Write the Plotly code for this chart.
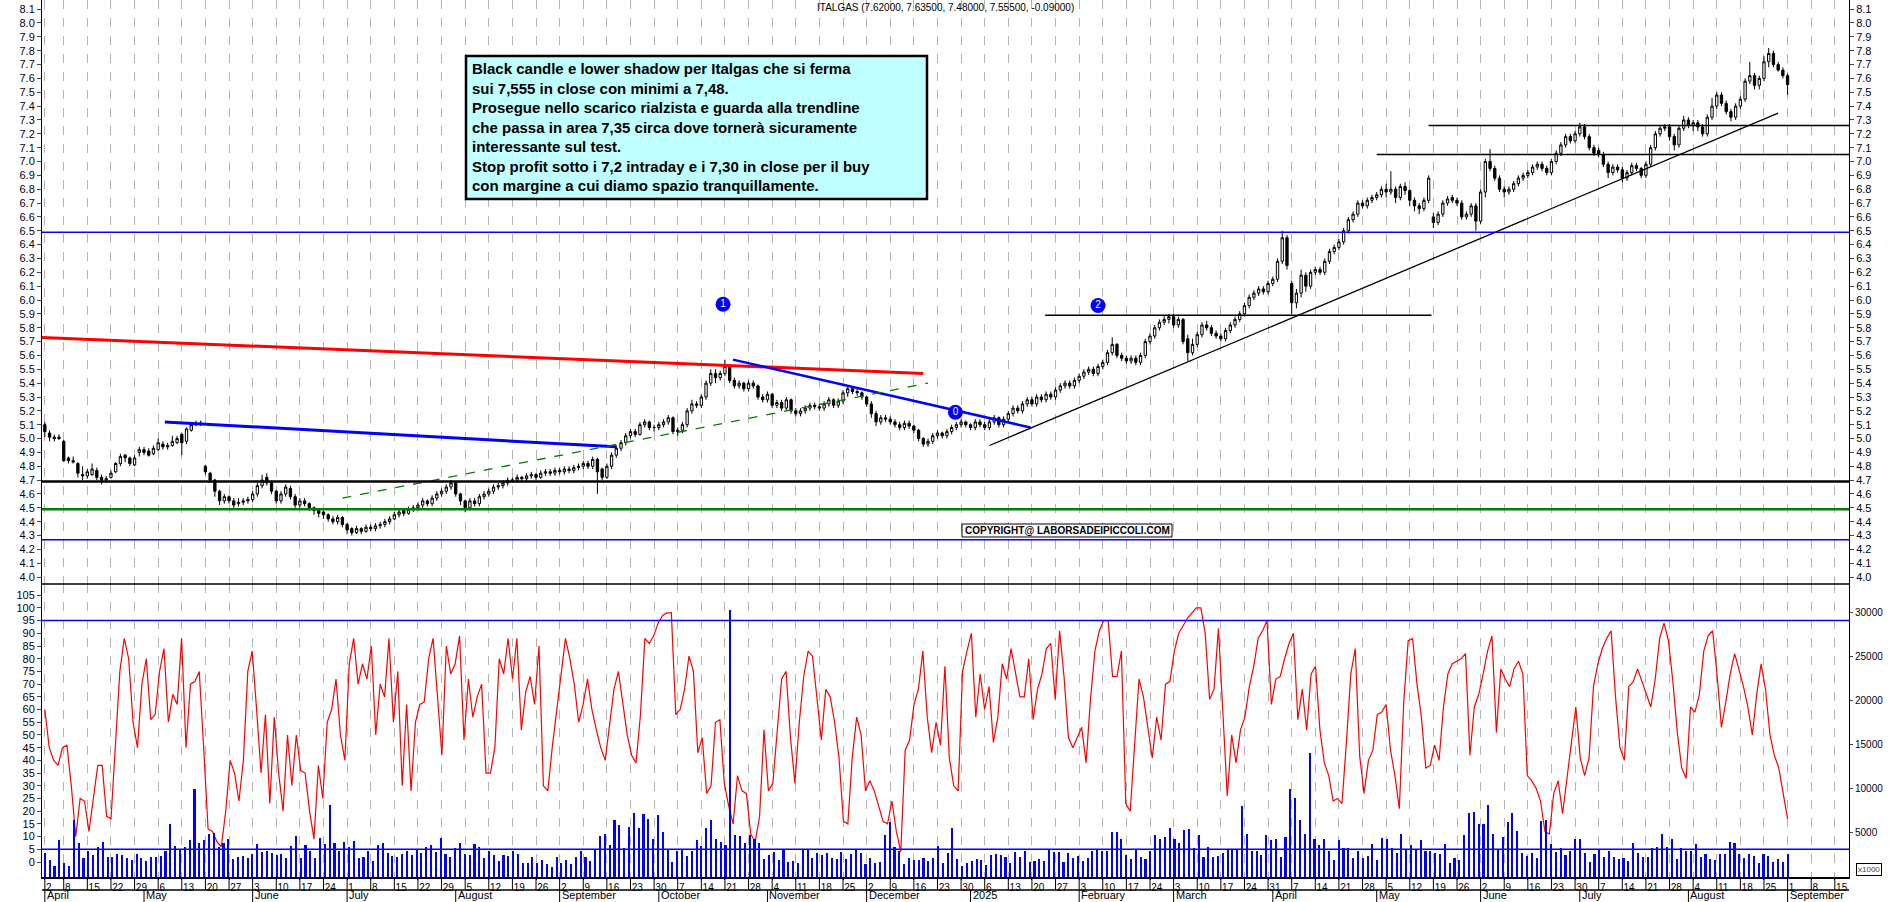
import numpy as np
import pandas as pd
import plotly.graph_objects as go

START, END = "2024-04-02", "2025-09-01"

close = [5.05,5.01,5.00,5.01,
4.84,4.84,4.84,4.75,4.73, 4.76,4.78,4.72,4.70,4.71, 4.75,4.82,4.87,4.86,4.82, 4.86,4.92,4.90,4.88,4.93,
4.97,4.94,4.95,4.98,5.00, 4.97,5.07,5.10,5.11,5.11, 4.76,4.70,4.62,4.55,4.58, 4.55,4.52,4.54,4.55,4.56,
4.60,4.66,4.70,4.68,4.62, 4.55,4.60,4.65,4.58,4.52, 4.55,4.53,4.50,4.48,4.46, 4.45,4.42,4.40,4.43,4.38,
4.34,4.32,4.35,4.33,4.36, 4.35,4.37,4.38,4.40,4.42, 4.45,4.47,4.46,4.49,4.50, 4.52,4.55,4.53,4.57,4.60,
4.62,4.65,4.68,4.60,4.55, 4.50,4.55,4.53,4.58,4.60, 4.62,4.65,4.66,4.68,4.70, 4.70,4.72,4.71,4.73,4.74,
4.72,4.75,4.76,4.75,4.77, 4.76,4.78,4.77,4.79,4.80, 4.82,4.80,4.85,4.76,4.72, 4.80,4.88,4.93,4.97,5.02,
5.05,5.03,5.10,5.12,5.08, 5.08,5.10,5.12,5.15,5.05, 5.06,5.10,5.20,5.25,5.24, 5.30,5.40,5.47,5.44,5.47,
5.52,5.42,5.38,5.40,5.36, 5.40,5.38,5.30,5.28,5.32, 5.24,5.26,5.22,5.28,5.20, 5.18,5.20,5.22,5.24,5.23,
5.22,5.25,5.28,5.24,5.27, 5.33,5.36,5.34,5.33,5.30, 5.25,5.18,5.12,5.15,5.14, 5.12,5.10,5.08,5.11,5.09,
5.06,5.00,4.96,4.98,5.02, 5.04,5.02,5.05,5.08,5.10, 5.12,5.10,5.08,5.12,5.10, 5.08,5.12,5.15,5.10,5.14,
5.18,5.22,5.20,5.25,5.28, 5.25,5.30,5.28,5.32,5.30, 5.35,5.38,5.40,5.38,5.42, 5.45,5.48,5.50,5.47,5.52,
5.55,5.62,5.68,5.60,5.58, 5.56,5.58,5.55,5.60,5.70, 5.74,5.80,5.84,5.86,5.88, 5.82,5.86,5.70,5.62,5.68,
5.75,5.82,5.80,5.76,5.74, 5.72,5.78,5.82,5.86,5.90, 5.96,6.02,6.05,6.08,6.06, 6.12,6.15,6.28,6.45,6.25,
5.98,6.05,6.18,6.10,6.20, 6.22,6.20,6.28,6.35,6.38, 6.42,6.50,6.58,6.62,6.70, 6.68,6.72,6.74,6.76,6.80,
6.78,6.80,6.74,6.82,6.79, 6.72,6.68,6.66,6.72,6.88, 6.56,6.62,6.70,6.73,6.72, 6.70,6.60,6.62,6.68,6.57,
6.78,7.00,6.95,6.88,6.80, 6.78,6.80,6.84,6.88,6.90, 6.92,6.96,6.98,6.95,6.92, 7.00,7.06,7.12,7.18,7.15,
7.20,7.25,7.18,7.10,7.06, 7.05,6.98,6.92,6.96,6.94, 6.88,6.92,6.97,6.95,6.90, 6.98,7.10,7.20,7.24,7.25,
7.18,7.12,7.24,7.30,7.26, 7.28,7.25,7.20,7.32,7.40, 7.48,7.42,7.36,7.32,7.40, 7.45,7.58,7.62,7.55,7.60,
7.72,7.78,7.70,7.66,7.62, 7.555]

open_ = [5.10,5.04,5.01,5.00,
4.98,4.86,4.83,4.82,4.74, 4.73,4.74,4.77,4.72,4.70, 4.72,4.76,4.82,4.88,4.86, 4.81,4.90,4.92,4.91,4.89,
4.92,4.96,4.94,4.95,4.97, 5.03,4.98,5.06,5.10,5.11, 4.80,4.75,4.70,4.62,4.55, 4.58,4.55,4.53,4.54,4.55,
4.56,4.60,4.66,4.72,4.68, 4.62,4.55,4.60,4.64,4.58, 4.52,4.55,4.53,4.50,4.48, 4.47,4.45,4.42,4.40,4.43,
4.38,4.35,4.32,4.35,4.33, 4.36,4.35,4.37,4.38,4.40, 4.42,4.45,4.48,4.46,4.49, 4.50,4.52,4.55,4.53,4.57,
4.60,4.62,4.65,4.68,4.60, 4.55,4.50,4.55,4.53,4.58, 4.60,4.62,4.65,4.66,4.68, 4.70,4.70,4.72,4.71,4.73,
4.74,4.72,4.75,4.76,4.75, 4.77,4.76,4.78,4.77,4.79, 4.80,4.82,4.80,4.85,4.78, 4.72,4.80,4.88,4.93,4.97,
5.02,5.05,5.03,5.10,5.12, 5.08,5.08,5.10,5.12,5.15, 5.05,5.06,5.10,5.20,5.25, 5.24,5.30,5.40,5.47,5.44,
5.47,5.52,5.42,5.38,5.40, 5.36,5.40,5.38,5.30,5.28, 5.32,5.24,5.26,5.22,5.28, 5.20,5.18,5.20,5.22,5.24,
5.23,5.22,5.25,5.28,5.24, 5.27,5.33,5.36,5.34,5.33, 5.30,5.25,5.18,5.12,5.15, 5.14,5.12,5.10,5.08,5.11,
5.09,5.06,5.00,4.96,4.98, 5.02,5.04,5.02,5.05,5.08, 5.10,5.12,5.10,5.08,5.12, 5.10,5.08,5.12,5.15,5.10,
5.14,5.18,5.22,5.20,5.25, 5.28,5.25,5.30,5.28,5.32, 5.30,5.35,5.38,5.40,5.38, 5.42,5.45,5.48,5.50,5.47,
5.52,5.55,5.62,5.68,5.60, 5.58,5.56,5.58,5.55,5.60, 5.70,5.74,5.80,5.84,5.86, 5.88,5.82,5.86,5.72,5.62,
5.68,5.75,5.82,5.80,5.76, 5.74,5.72,5.78,5.82,5.86, 5.90,5.96,6.02,6.05,6.08, 6.06,6.12,6.15,6.28,6.45,
6.12,5.98,6.05,6.18,6.10, 6.20,6.22,6.20,6.28,6.35, 6.38,6.42,6.50,6.58,6.62, 6.70,6.68,6.72,6.74,6.76,
6.80,6.78,6.80,6.74,6.82, 6.79,6.72,6.68,6.66,6.72, 6.60,6.56,6.62,6.70,6.74, 6.72,6.70,6.60,6.62,6.68,
6.57,6.78,7.00,6.95,6.88, 6.80,6.78,6.80,6.84,6.88, 6.90,6.92,6.96,6.98,6.95, 6.92,7.00,7.06,7.12,7.18,
7.15,7.20,7.25,7.18,7.10, 7.08,7.05,6.98,6.92,6.96, 6.94,6.88,6.92,6.97,6.95, 6.90,6.98,7.10,7.20,7.24,
7.25,7.18,7.12,7.24,7.30, 7.26,7.28,7.25,7.20,7.32, 7.40,7.48,7.42,7.36,7.32, 7.40,7.45,7.58,7.62,7.55,
7.60,7.72,7.78,7.70,7.66, 7.62]

high = [5.12,5.06,5.03,5.03,
4.99,4.87,4.87,4.83,4.80, 4.78,4.82,4.79,4.74,4.73, 4.77,4.83,4.89,4.89,4.87, 4.88,4.94,4.94,4.93,4.95,
5.00,4.98,4.97,5.02,5.02, 5.04,5.08,5.12,5.13,5.13, 4.81,4.76,4.71,4.63,4.60, 4.59,4.57,4.57,4.57,4.58,
4.62,4.68,4.74,4.75,4.69, 4.63,4.62,4.67,4.66,4.60, 4.57,4.57,4.54,4.51,4.49, 4.48,4.46,4.44,4.45,4.44,
4.39,4.36,4.37,4.36,4.38, 4.38,4.39,4.40,4.42,4.44, 4.47,4.49,4.49,4.51,4.52, 4.54,4.57,4.56,4.59,4.62,
4.64,4.67,4.70,4.69,4.61, 4.56,4.57,4.57,4.60,4.62, 4.64,4.67,4.68,4.70,4.72, 4.72,4.74,4.73,4.75,4.76,
4.75,4.77,4.78,4.78,4.79, 4.79,4.80,4.80,4.81,4.82, 4.84,4.84,4.87,4.86,4.79, 4.82,4.90,4.95,4.99,5.04,
5.07,5.07,5.12,5.14,5.13, 5.10,5.12,5.14,5.17,5.16, 5.08,5.12,5.22,5.28,5.27, 5.32,5.42,5.50,5.50,5.49,
5.57,5.53,5.44,5.42,5.41, 5.42,5.42,5.39,5.32,5.34, 5.33,5.28,5.28,5.30,5.29, 5.22,5.22,5.24,5.26,5.26,
5.25,5.27,5.30,5.29,5.29, 5.35,5.38,5.38,5.36,5.34, 5.31,5.27,5.20,5.17,5.17, 5.16,5.14,5.12,5.13,5.13,
5.10,5.07,5.01,5.00,5.04, 5.06,5.05,5.07,5.10,5.12, 5.14,5.13,5.11,5.14,5.14, 5.12,5.14,5.17,5.16,5.16,
5.20,5.24,5.24,5.27,5.30, 5.30,5.32,5.32,5.34,5.34, 5.37,5.40,5.42,5.42,5.44, 5.47,5.50,5.52,5.52,5.54,
5.57,5.64,5.73,5.69,5.62, 5.60,5.60,5.60,5.62,5.72, 5.76,5.82,5.86,5.89,5.90, 5.90,5.88,5.87,5.75,5.72,
5.77,5.84,5.85,5.82,5.78, 5.76,5.80,5.84,5.88,5.92, 5.98,6.04,6.07,6.10,6.10, 6.14,6.17,6.30,6.50,6.47,
6.14,6.08,6.22,6.20,6.22, 6.24,6.24,6.30,6.37,6.40, 6.44,6.52,6.60,6.64,6.72, 6.72,6.74,6.76,6.78,6.82,
6.84,6.93,6.82,6.84,6.85, 6.80,6.74,6.70,6.74,6.90, 6.63,6.64,6.72,6.75,6.76, 6.74,6.72,6.64,6.70,6.70,
6.80,7.02,7.09,6.97,6.90, 6.82,6.82,6.86,6.90,6.92, 6.94,6.98,7.00,7.00,6.97, 7.02,7.08,7.14,7.20,7.20,
7.22,7.28,7.27,7.20,7.12, 7.10,7.07,7.00,6.98,6.98, 6.96,6.94,6.99,6.99,6.96, 7.00,7.12,7.22,7.26,7.27,
7.27,7.20,7.26,7.33,7.32, 7.30,7.30,7.27,7.34,7.46, 7.50,7.50,7.44,7.38,7.42, 7.47,7.60,7.72,7.64,7.62,
7.76,7.82,7.80,7.72,7.68, 7.635]

low = [5.01,4.98,4.98,4.99,
4.83,4.82,4.82,4.72,4.70, 4.71,4.73,4.70,4.67,4.68, 4.71,4.75,4.80,4.83,4.80, 4.80,4.87,4.88,4.87,4.88,
4.91,4.92,4.92,4.94,4.96, 4.88,4.96,5.05,5.09,5.09, 4.74,4.68,4.58,4.52,4.53, 4.53,4.50,4.51,4.52,4.53,
4.54,4.58,4.64,4.66,4.60, 4.53,4.53,4.58,4.56,4.50, 4.50,4.51,4.48,4.45,4.43, 4.42,4.40,4.38,4.38,4.36,
4.31,4.30,4.31,4.31,4.32, 4.33,4.33,4.35,4.36,4.38, 4.41,4.43,4.44,4.45,4.47, 4.48,4.50,4.51,4.51,4.55,
4.58,4.60,4.63,4.58,4.52, 4.47,4.48,4.51,4.51,4.56, 4.58,4.60,4.63,4.64,4.66, 4.68,4.68,4.69,4.69,4.71,
4.70,4.71,4.73,4.73,4.73, 4.74,4.74,4.75,4.75,4.77, 4.78,4.78,4.78,4.60,4.70, 4.71,4.78,4.86,4.91,4.95,
5.00,5.01,5.02,5.08,5.06, 5.05,5.06,5.08,5.10,5.03, 5.02,5.04,5.08,5.18,5.22, 5.22,5.28,5.38,5.40,5.42,
5.45,5.40,5.36,5.36,5.34, 5.34,5.36,5.28,5.26,5.26, 5.22,5.22,5.20,5.20,5.18, 5.16,5.16,5.18,5.20,5.21,
5.20,5.20,5.23,5.22,5.22, 5.25,5.30,5.32,5.31,5.28, 5.23,5.15,5.09,5.10,5.12, 5.10,5.08,5.06,5.06,5.07,
5.04,4.98,4.94,4.94,4.96, 5.00,5.00,5.00,5.03,5.06, 5.08,5.08,5.06,5.06,5.08, 5.06,5.06,5.10,5.08,5.08,
5.12,5.16,5.18,5.18,5.23, 5.23,5.23,5.26,5.26,5.28, 5.28,5.33,5.36,5.36,5.36, 5.40,5.43,5.46,5.45,5.45,
5.50,5.53,5.60,5.58,5.56, 5.54,5.54,5.53,5.53,5.58, 5.68,5.72,5.78,5.82,5.83, 5.80,5.80,5.68,5.56,5.60,
5.66,5.73,5.78,5.74,5.72, 5.70,5.70,5.76,5.80,5.84, 5.88,5.94,6.00,6.03,6.04, 6.04,6.10,6.13,6.26,6.22,
5.90,5.94,6.02,6.06,6.08, 6.18,6.18,6.18,6.26,6.33, 6.36,6.40,6.48,6.56,6.60, 6.66,6.66,6.70,6.72,6.74,
6.74,6.76,6.70,6.72,6.76, 6.68,6.64,6.62,6.64,6.70, 6.52,6.54,6.60,6.68,6.70, 6.68,6.58,6.58,6.60,6.50,
6.55,6.74,6.93,6.86,6.78, 6.74,6.76,6.78,6.82,6.86, 6.88,6.90,6.94,6.93,6.90, 6.90,6.98,7.04,7.10,7.13,
7.13,7.18,7.16,7.08,7.04, 7.03,6.96,6.88,6.90,6.92, 6.85,6.86,6.90,6.93,6.88, 6.88,6.96,7.08,7.18,7.22,
7.15,7.08,7.10,7.22,7.24, 7.22,7.22,7.18,7.18,7.30, 7.38,7.40,7.34,7.29,7.30, 7.38,7.43,7.56,7.52,7.52,
7.58,7.68,7.68,7.65,7.60, 7.48]

stoch = [60,45,40,38,45,46,30,10,25,24, 12,25,38,38,18,17,45,75,88,80, 55,45,70,80,56,58,75,84,55,66,
62,88,45,70,71,75,45,13,12,8, 6,20,40,35,24,40,75,83,60,35, 58,23,57,35,20,50,30,50,36,35,
20,9,38,25,55,60,72,50,40,78, 88,70,78,72,85,50,70,65,88,55, 75,30,62,28,55,62,63,80,88,65,
42,85,74,78,89,48,72,57,65,70, 35,35,45,80,74,88,72,88,52,67, 73,62,85,30,28,45,
60,75,88,80,70,55,62,72,60,52,45,40,55,68,75,62,50,42,
39,58,88,86,89,94,97,98,98,58, 60,68,81,75,43,49,27,30,55,56, 31,22,15,34,28,27,11,8,18,52,
28,31,52,72,75,49,31,55,73,83, 81,65,48,68,65,55,41,16,15,41, 57,50,28,32,28,22,16,15,24,12,
4,44,48,62,68,83,57,43,55,46, 77,41,30,28,75,83,90,57,74,60, 69,47,57,78,72,84,75,65,65,80,
56,68,74,84,86,64,91,73,49,45, 49,53,39,64,83,91,95,95,73,73, 83,23,20,45,72,65,52,41,57,48,
70,71,83,90,93,96,98,100,100,90, 64,68,92,60,26,50,39,52,57,69, 77,88,91,95,62,72,73,80,86,90,
56,68,52,74,77,52,39,
34,24,25,23, 47,74,84,42,27,40,44,58,59,62, 44,34,21,63,87,88,70,57,37,38,
46,40,61,74,78,79,80,82,42,61, 66,74,83,89,51,76,72,69,76,79, 74,34,32,29,24,12,11,27,32,19,
32,47,61,41,34,41,69,78,84,88, 91,65,45,40,69,71,76,71,66,61, 72,88,94,87,71,51,37,33,61,59,
66,83,89,91,74,53,63,74,82,76, 69,61,50,66,78,68,50,42,37,27, 17]

volume_k = [2.7,1.9,1.3,4.2,
1.6,1.2,6.4,3.8,2.2, 2.9,2.5,3.4,4.0,2.3, 2.3,2.6,2.5,2.2,1.9, 2.6,2.1,1.8,2.3,2.3,
2.4,3.0,6.0,3.5,3.1, 3.4,4.2,10.0,3.9,4.2, 4.9,5.0,3.4,3.8,4.3, 2.0,2.3,2.4,2.2,2.6,
3.7,2.8,3.0,2.7,2.5, 2.6,2.2,3.5,4.6,2.1, 3.6,3.0,2.2,4.4,3.7, 8.2,3.8,2.9,4.0,3.4,
4.1,2.2,2.3,3.0,1.8, 3.6,3.8,2.7,2.4,2.3, 2.6,3.0,2.5,3.2,2.7, 3.4,3.6,2.8,4.4,2.6,
2.3,3.3,3.9,2.6,2.5, 3.7,3.4,2.1,3.0,2.5, 1.8,2.5,2.4,3.0,2.6, 1.6,1.6,2.3,1.6,1.9,
1.5,1.1,2.3,1.6,1.9, 1.5,2.3,2.9,2.3,1.8, 3.1,4.6,4.9,3.6,6.5, 5.9,3.3,5.7,7.2,5.5,
7.1,6.6,4.3,7.0,5.1, 3.2,1.7,2.9,3.1,2.4, 3.0,4.2,3.5,5.6,6.4,
4.3,4.0,3.6,30.2,4.7,4.6,3.8,4.7,4.3,3.8, 2.0,2.5,2.8,1.9,3.2,1.7,1.8,1.6,3.2,3.2,
2.1,2.7,2.5,2.7,2.2,2.0,2.8,2.0,2.6,3.2, 2.7,1.5,2.2,1.6,1.7,4.7,6.2,3.4,2.9,1.5,
2.1,1.9,1.9,2.2,1.8,2.2,3.5,1.6,2.7,5.5, 2.0,1.3,1.6,1.8,2.0,1.9,1.4,2.5,2.6,2.5,
2.3,1.6,2.8,2.3,3.0,1.7,1.8,2.0,1.8,3.2, 2.8,2.8,1.7,2.7,2.2,2.4,1.8,2.2,3.0,3.2,
2.9,2.9,5.1,5.1,4.3,2.5,2.0,3.2,2.3,2.0, 2.9,4.7,4.3,4.5,5.5,4.3,3.9,5.3,5.4,3.3,
4.7,2.3,3.4,2.3,2.4,2.7,3.1,3.1,3.2,8.0, 4.9,3.0,2.9,2.5,4.8,4.2,4.3,2.3,4.5,10.0,
9.0,6.5,4.9,14.0,4.3,3.6,4.3,2.9,1.9,4.2, 3.3,3.3,2.1,2.9,2.2,2.4,3.7,1.9,4.4,4.3,
3.3,2.7,
4.9,3.2,3.6,3.2,4.2,3.0,3.0,2.7,2.6,3.7, 1.6,2.2,1.9,4.8,7.2,7.4,6.0,6.0,8.2,4.9,
3.2,4.5,6.2,7.2,5.2,2.7,2.4,2.7,2.2,6.3, 6.5,3.7,2.8,3.3,2.5,3.0,4.3,4.3,2.7,1.7,
2.6,3.2,2.3,2.9,2.3,2.0,2.1,1.8,3.8,2.7, 2.3,2.3,3.3,3.4,4.9,3.4,4.3,2.0,3.3,3.0,
3.0,3.7,2.3,2.6,2.0,1.9,2.6,2.6,4.0,3.8, 2.6,2.2,2.6,2.4,1.6,2.6,2.4,1.7,2.0,1.7, 2.6]

month_names = ["April", "May", "June", "July", "August", "September", "October", "November",
               "December", "2025", "February", "March", "April", "May", "June", "July",
               "August", "September"]

red_line_x, red_line_y = [-0.6, 186], [5.73, 5.47]
blue1_x, blue1_y = [25.4, 121], [5.12, 4.94]
blue2_x, blue2_y = [145.7, 208.7], [5.57, 5.08]
green_x, green_y = [63, 187], [4.57, 5.40]
trend_x, trend_y = [200, 367], [4.95, 7.35]
res1_x, res1_y = [211.8, 293.6], [5.89, 5.89]
res2_x, res2_y = [282, 382], [7.05, 7.05]
res3_x, res3_y = [293, 382], [7.26, 7.26]
hlines_full = [(6.49, "#0000ff", 1.5), (4.69, "#000000", 2.5), (4.49, "#008000", 2.5), (4.27, "#0000ff", 1.5)]
marks_x, marks_y, marks_t = [143.6, 192.8, 223], [5.97, 5.19, 5.96], ["1", "0", "2"]

dates = pd.bdate_range(START, END)
n = len(dates)
xi = np.arange(n)
XMIN, XMAX = -0.6, 382

tickv, tickt = [], []
for i, d in enumerate(dates):
    if i == 0 or d.weekday() == 0:
        tickv.append(i); tickt.append(str(d.day))
for k, extra in enumerate(["8", "15"]):
    tickv.append(n - 1 + 5 * (k + 1)); tickt.append(extra)
month_idx = [i for i, d in enumerate(dates) if i == 0 or d.month != dates[i - 1].month]

FONT = "Arial, Liberation Sans, sans-serif"
fig = go.Figure()

fig.add_trace(go.Candlestick(x=xi[:len(close)], open=open_, high=high, low=low, close=close,
    increasing=dict(line=dict(color="black", width=1), fillcolor="white"),
    decreasing=dict(line=dict(color="black", width=1), fillcolor="black"),
    whiskerwidth=0, xaxis="x2", yaxis="y", showlegend=False, hoverinfo="skip"))

def seg(xs, ys, color, width, dash=None):
    fig.add_trace(go.Scatter(x=xs, y=ys, mode="lines", line=dict(color=color, width=width, dash=dash),
                             xaxis="x2", yaxis="y", showlegend=False, hoverinfo="skip"))

seg(red_line_x, red_line_y, "#ff0000", 3)
seg(blue1_x, blue1_y, "#0000ff", 3)
seg(blue2_x, blue2_y, "#0000ff", 2.5)
seg(green_x, green_y, "#008000", 1.3, "dash")
seg(trend_x, trend_y, "#000000", 1.3)
seg(res1_x, res1_y, "#000000", 1.5)
seg(res2_x, res2_y, "#000000", 1.5)
seg(res3_x, res3_y, "#000000", 1.5)
for p, c, w in hlines_full:
    seg([XMIN, XMAX], [p, p], c, w)

fig.add_trace(go.Scatter(x=marks_x, y=marks_y, mode="markers+text", text=marks_t,
    marker=dict(size=15, color="#0000ff"), textfont=dict(color="white", size=10, family=FONT),
    textposition="middle center", xaxis="x2", yaxis="y", showlegend=False, hoverinfo="skip"))
fig.add_trace(go.Scatter(x=[XMIN], y=[4.0], mode="markers", marker=dict(opacity=0), xaxis="x2", yaxis="y2",
                         showlegend=False, hoverinfo="skip"))

vx = np.linspace(0, n - 1, len(volume_k))
fig.add_trace(go.Bar(x=vx, y=np.array(volume_k) * 1000, marker=dict(color="#0000ff", line=dict(width=0)),
    width=0.45, xaxis="x", yaxis="y4", showlegend=False, hoverinfo="skip"))
sx = np.linspace(0, n - 1, len(stoch))
fig.add_trace(go.Scatter(x=sx, y=stoch, mode="lines", line=dict(color="#ff0000", width=1.2),
    xaxis="x", yaxis="y3", showlegend=False, hoverinfo="skip"))
for lvl in (95, 5):
    fig.add_trace(go.Scatter(x=[XMIN, XMAX], y=[lvl, lvl], mode="lines", line=dict(color="#0000ff", width=1.5),
        xaxis="x", yaxis="y3", showlegend=False, hoverinfo="skip"))

XD = [42 / 1890, 1849 / 1890]
SPLIT = (877 - 584) / 877
tickfont = dict(family=FONT, size=11, color="#000020")
grid = dict(showgrid=True, gridcolor="#b4b4b4", griddash="dash", gridwidth=1)
ptick = [round(4.0 + 0.1 * k, 1) for k in range(42)]

fig.update_layout(
    width=1890, height=902, plot_bgcolor="white", paper_bgcolor="white",
    margin=dict(l=0, r=0, t=0, b=25, autoexpand=False), bargap=0,
    xaxis=dict(domain=XD, range=[XMIN, XMAX], anchor="y3", tickvals=tickv, ticktext=tickt,
               ticks="outside", ticklen=1, tickcolor="black", tickfont=dict(family=FONT, size=10, color="black"),
               ticklabelposition="outside right", showline=True, linecolor="black",
               linewidth=1.5, rangeslider=dict(visible=False), zeroline=False, automargin=False, **grid),
    xaxis2=dict(domain=XD, range=[XMIN, XMAX], anchor="y", matches="x", tickvals=tickv, showticklabels=False,
                ticks="", showline=False, zeroline=False, rangeslider=dict(visible=False), **grid),
    yaxis=dict(domain=[SPLIT, 1], range=[3.95, 8.166], tickvals=ptick,
               tickformat=".1f", side="left", ticks="outside", ticklen=4, showline=True, linecolor="black",
               tickfont=tickfont, showgrid=False, zeroline=False, anchor="x2", automargin=False),
    yaxis2=dict(domain=[SPLIT, 1], range=[3.95, 8.166], overlaying="y", side="right",
                tickvals=ptick, tickformat=".1f", ticks="outside", automargin=False,
                ticklen=4, showline=True, linecolor="black", tickfont=tickfont, showgrid=False, anchor="x2"),
    yaxis3=dict(domain=[0, SPLIT], range=[-5.9, 109.4], tickvals=list(range(0, 106, 5)), side="left",
                ticks="outside", ticklen=4, showline=True, linecolor="black", tickfont=tickfont,
                showgrid=False, zeroline=False, anchor="x", automargin=False),
    yaxis4=dict(domain=[0, SPLIT], range=[0, 33170], overlaying="y3", side="right",
                tickvals=[5000, 10000, 15000, 20000, 25000, 30000],
                ticktext=["5000", "10000", "15000", "20000", "25000", "30000"],
                ticks="outside", ticklen=3, automargin=False,
                showline=True, linecolor="black", tickfont=dict(family=FONT, size=10, color="#000020"),
                showgrid=False, zeroline=False, anchor="x"),
)

ROW = -13 / 877
shapes = [
    dict(type="line", xref="paper", yref="paper", x0=XD[0], x1=XD[1], y0=SPLIT, y1=SPLIT,
         line=dict(color="black", width=1.5)),
    dict(type="line", xref="paper", yref="paper", x0=XD[0], x1=XD[1], y0=ROW, y1=ROW,
         line=dict(color="black", width=1.5)),
    dict(type="rect", xref="paper", yref="paper", x0=466 / 1890, x1=927 / 1890,
         y0=1 - 199 / 877, y1=1 - 56 / 877, fillcolor="#c0ffff", line=dict(color="black", width=2.5)),
    dict(type="rect", xref="paper", yref="paper", x0=962 / 1890, x1=1172 / 1890,
         y0=1 - 537 / 877, y1=1 - 524 / 877, fillcolor="white", line=dict(color="black", width=1)),
]
for tv in tickv:
    shapes.append(dict(type="line", xref="x", yref="paper", x0=tv, x1=tv, y0=0, y1=ROW,
                       line=dict(color="black", width=1)))
annos = []
for k, i in enumerate(month_idx):
    shapes.append(dict(type="line", xref="x", yref="paper", x0=i, x1=i, y0=ROW, y1=-25 / 877,
                       line=dict(color="black", width=1)))
    annos.append(dict(text=month_names[k], x=i, xref="x", y=-25 / 877, yref="paper", xanchor="left",
                      yanchor="bottom", showarrow=False, xshift=1, borderpad=0,
                      font=dict(family=FONT, size=11, color="black")))

note = ("Black candle e lower shadow per Italgas che si ferma<br>sui 7,555 in close con minimi a 7,48.<br>"
        "Prosegue nello scarico rialzista e guarda alla trendline<br>"
        "che passa in area 7,35 circa dove tornerà sicuramente<br>interessante sul test.<br>"
        "Stop profit sotto i 7,2 intraday e i 7,30 in close per il buy<br>"
        "con margine a cui diamo spazio tranquillamente.")
annos.append(dict(text="<b>" + note + "</b>", x=470 / 1890, y=1 - 58 / 877, xref="paper", yref="paper",
                  xanchor="left", yanchor="top", align="left", showarrow=False,
                  font=dict(family=FONT, size=15, color="black")))
annos.append(dict(text="ITALGAS (7.62000, 7.63500, 7.48000, 7.55500, -0.09000)", x=945 / 1890, y=1 - 8 / 877,
                  xref="paper", yref="paper", xanchor="center", yanchor="middle", showarrow=False,
                  font=dict(family=FONT, size=10, color="black")))
annos.append(dict(text="<b>COPYRIGHT@ LABORSADEIPICCOLI.COM</b>", x=1067 / 1890, y=1 - 530.5 / 877,
                  xref="paper", yref="paper", xanchor="center", yanchor="middle", showarrow=False,
                  font=dict(family=FONT, size=10, color="black")))
annos.append(dict(text="x1000", x=1869 / 1890, y=8 / 877, xref="paper", yref="paper", xanchor="center",
                  yanchor="middle", showarrow=False, bordercolor="black", borderwidth=1, borderpad=1,
                  font=dict(family=FONT, size=8, color="#444")))
fig.update_layout(shapes=shapes, annotations=annos)
fig.write_html("out.html", config={"displayModeBar": False},
               post_script="document.body.style.margin='0';document.body.style.overflow='hidden';")
